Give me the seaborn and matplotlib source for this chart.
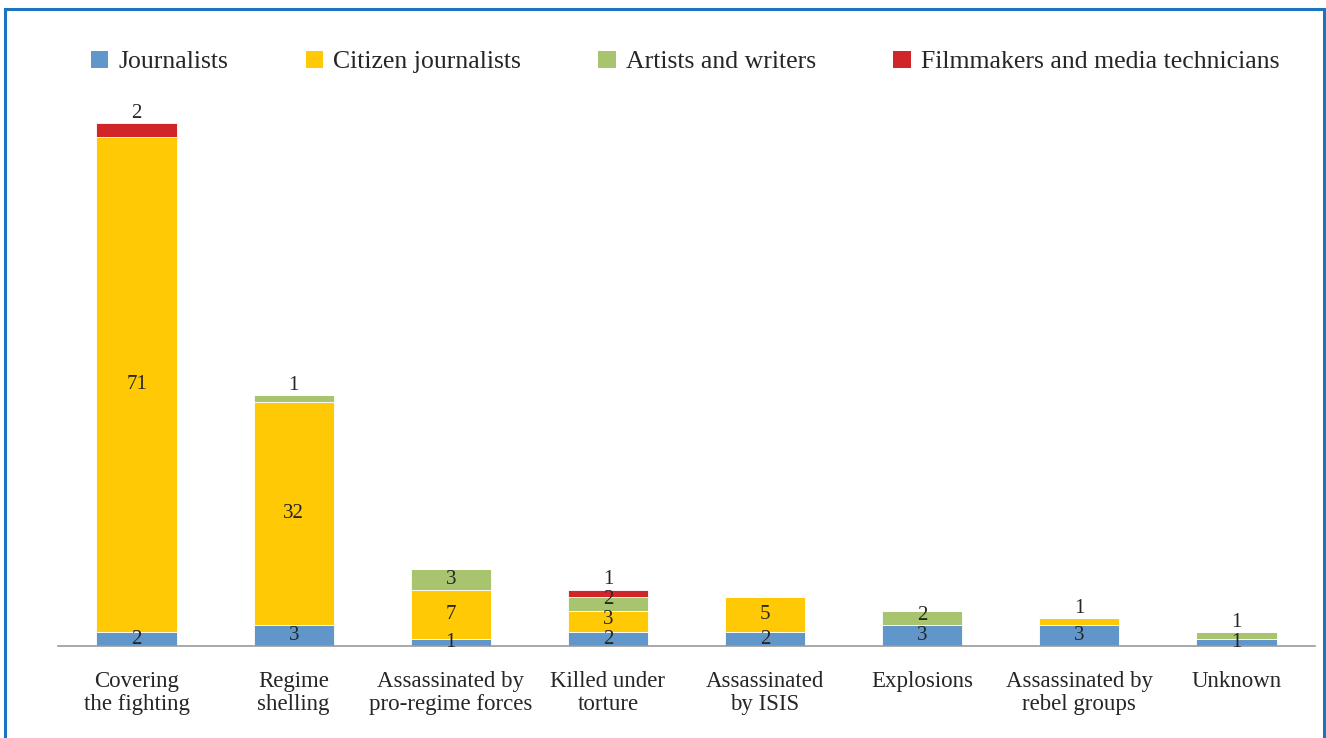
import matplotlib
matplotlib.use("Agg")
import matplotlib.pyplot as plt
import seaborn as sns
import pandas as pd
from matplotlib.patches import Rectangle, Patch

categories = ["Covering\nthe fighting", "Regime\nshelling", "Assassinated by\npro-regime forces",
              "Killed under\ntorture", "Assassinated\nby ISIS", "Explosions",
              "Assassinated by\nrebel groups", "Unknown"]
series_names = ["Journalists", "Citizen journalists", "Artists and writers",
                "Filmmakers and media technicians"]
journalists = [2, 3, 1, 2, 2, 3, 3, 1]
citizen = [71, 32, 7, 3, 5, 0, 1, 0]
artists = [0, 1, 3, 2, 0, 2, 0, 1]
filmmakers = [2, 0, 0, 1, 0, 0, 0, 0]
colors = ["#6096C9", "#FFCA05", "#A8C46F", "#D0262A"]

sns.set_theme(style="white")
plt.rcParams["font.family"] = ["Liberation Serif", "DejaVu Serif"]

W, H = 1326, 738
fig = plt.figure(figsize=(W / 100, H / 100), dpi=100)
ax_h = 0.7555
ax = fig.add_axes([58 / W, 92 / H, (1315 - 58) / W, ax_h])
YMAX = 80
ax.set_ylim(0, YMAX)

df = pd.DataFrame({"cat": categories, "J": journalists, "C": citizen,
                   "A": artists, "F": filmmakers})
keys = ["J", "C", "A", "F"]
txtcol = "#262626"
bottom = [0] * len(categories)
segments = {i: [] for i in range(len(categories))}
for key, col in zip(keys, colors):
    vals = df[key].tolist()
    sns.barplot(data=df, x="cat", y=key, color=col, bottom=bottom, width=0.51,
                edgecolor="white", linewidth=0.6, ax=ax, saturation=1)
    for i, v in enumerate(vals):
        if v > 0:
            segments[i].append((key, bottom[i], v))
    bottom = [b + v for b, v in zip(bottom, vals)]

# label placement: centred in segment, small top segments above the bar,
# labels pushed up so they do not overlap
px_per_unit = ax_h * H / YMAX
gap = 20 / px_per_unit
above = 10 / px_per_unit
LABEL_FS = 15
for i, segs in segments.items():
    prev = None
    n = len(segs)
    for j, (key, b, v) in enumerate(segs):
        yc = b + v / 2
        if j == n - 1 and n > 1 and (v == 1 or key == "F"):
            yc = b + v + above
        if prev is not None:
            yc = max(yc, prev + gap)
        ax.text(i, yc, str(v), ha="center", va="center", fontsize=LABEL_FS, color=txtcol)
        prev = yc

ax.set_xlim(-0.5, 7.5)
ax.set_xlabel("")
ax.set_ylabel("")
ax.set_yticks([])
for s in ["top", "right", "left"]:
    ax.spines[s].set_visible(False)
ax.spines["bottom"].set_color("#9a9a9a")
ax.spines["bottom"].set_linewidth(1.2)
ax.tick_params(axis="x", length=0, pad=18, labelsize=16.5, colors=txtcol)
for lbl in ax.get_xticklabels():
    lbl.set_linespacing(1.1)

handles = [Patch(facecolor=c, edgecolor="none") for c in colors]
fig.legend(handles, series_names, loc="center left", bbox_to_anchor=(91 / W, 1 - 62 / H),
           ncol=4, frameon=False, fontsize=18.5, handlelength=0.68, handleheight=0.68,
           handletextpad=0.4, columnspacing=3.0, labelcolor=txtcol, borderaxespad=0, borderpad=0)

fig.patches.append(Rectangle((5 / W, -0.05), 1319 / W, 1.05 - 9 / H,
                             transform=fig.transFigure, fill=False,
                             edgecolor="#1E73BE", linewidth=2.2))

fig.savefig("out.png", dpi=100, facecolor="white")
